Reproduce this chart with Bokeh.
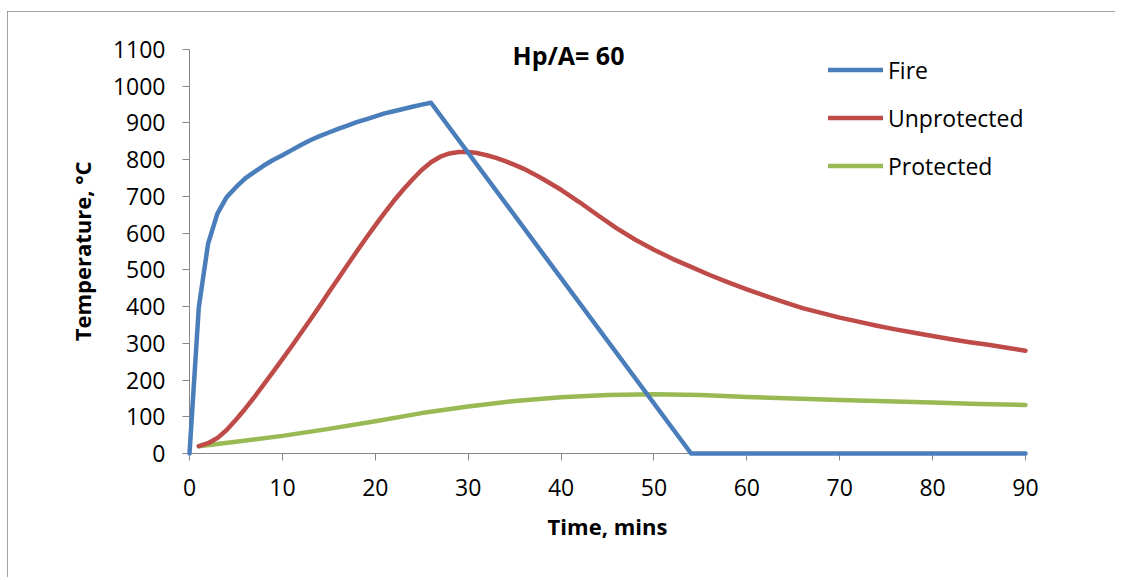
from bokeh.plotting import figure
from bokeh.models import Range1d, FixedTicker, Label, Legend, LegendItem
from bokeh.embed import file_html
from bokeh.resources import INLINE

# ---- data ----
fire_t = [0, 1, 2, 3, 4, 5, 6, 7, 8, 9, 10, 11, 12, 13, 14, 15, 16, 17, 18, 19,
          20, 21, 22, 23, 24, 25, 26, 54, 90]
fire_T = [0, 398, 571, 653, 698, 725, 749, 767, 784, 799, 812, 826, 840, 853, 864,
          874, 884, 893, 902, 910, 918, 926, 932, 938, 944, 950, 955, 0, 0]

unprot_t = [1, 2, 3, 4, 5, 6, 7, 8, 9, 10, 11, 12, 13, 14, 15, 16, 17, 18, 19, 20,
            21, 22, 23, 24, 25, 26, 27, 28, 29, 30, 31, 32, 33, 34, 35, 36, 37, 38,
            39, 40, 42, 44, 46, 48, 50, 52, 54, 56, 58, 60, 62, 64, 66, 68, 70, 72,
            74, 76, 78, 80, 82, 84, 86, 88, 90]
unprot_T = [20, 28, 42, 64, 92, 122, 154, 188, 222, 257, 292, 328, 364, 401, 439,
            476, 513, 550, 586, 621, 655, 688, 718, 746, 772, 793, 808, 817, 821,
            821, 818, 812, 805, 796, 786, 775, 762, 748, 733, 718, 684, 648, 613,
            582, 555, 530, 508, 486, 466, 447, 429, 412, 396, 383, 370, 359, 348,
            338, 329, 320, 311, 303, 296, 288, 280]

prot_t = [1, 5, 10, 15, 20, 25, 30, 35, 40, 45, 50, 55, 60, 65, 70, 75, 80, 85, 90]
prot_T = [20, 32, 48, 67, 88, 110, 128, 143, 153, 159, 161, 159, 154, 150, 146,
          142, 139, 135, 132]

x_ticks = list(range(0, 91, 10))
y_ticks = list(range(0, 1101, 100))

series_names = ["Fire", "Unprotected", "Protected"]
series_colors = ["#4A7EBB", "#BE4B48", "#98B954"]

FONT = "Open Sans"
AX = "#868686"

# frame extends 6px above the 1100 tick so the title is not clipped
Y_TOP = 1100 + 6 * 1100 / 404

p = figure(frame_width=836, frame_height=410,
           min_border_left=182, min_border_right=90,
           min_border_top=32, min_border_bottom=124,
           x_range=Range1d(0, 90), y_range=Range1d(0, Y_TOP),
           output_backend="svg", toolbar_location=None)
p.margin = (11, 0, 0, 7)
p.styles = {"outline": "1px solid #868686", "outline-offset": "-1px"}
p.outline_line_color = None
p.xgrid.visible = False
p.ygrid.visible = False
p.background_fill_color = "white"
p.border_fill_color = "white"

for ax in (p.xaxis[0], p.yaxis[0]):
    ax.axis_line_color = AX
    ax.major_tick_line_color = AX
    ax.minor_tick_line_color = None
    ax.major_tick_in = 0
    ax.major_tick_out = 7
    ax.major_label_text_font = FONT
    ax.major_label_text_font_size = "23px"
    ax.major_label_text_color = "black"
    ax.axis_label_text_font = FONT
    ax.axis_label_text_font_size = "22px"
    ax.axis_label_text_font_style = "bold"
    ax.axis_label_text_color = "black"

p.xaxis.ticker = FixedTicker(ticks=x_ticks)
p.yaxis.ticker = FixedTicker(ticks=y_ticks)
p.yaxis.bounds = (0, 1100)
p.xaxis.axis_label = "Time, mins"
p.yaxis.axis_label = "Temperature,  °C"
p.yaxis.major_label_standoff = 17
p.xaxis.major_label_standoff = 18
p.yaxis.axis_label_standoff = 13
p.xaxis.axis_label_standoff = 12

r_prot = p.line(prot_t, prot_T, line_color=series_colors[2], line_width=4.5,
                line_cap="round", line_join="round", level="overlay")
r_unprot = p.line(unprot_t, unprot_T, line_color=series_colors[1], line_width=4.5,
                  line_cap="round", line_join="round", level="overlay")
r_fire = p.line(fire_t, fire_T, line_color=series_colors[0], line_width=4.5,
                line_cap="round", line_join="round", level="overlay")

legend = Legend(items=[LegendItem(label=series_names[0], renderers=[r_fire]),
                       LegendItem(label=series_names[1], renderers=[r_unprot]),
                       LegendItem(label=series_names[2], renderers=[r_prot])],
                location=(639, 271))
legend.padding = 0
legend.margin = 0
legend.border_line_color = None
legend.background_fill_alpha = 0
legend.glyph_width = 55
legend.glyph_height = 33
legend.label_height = 33
legend.spacing = 15
legend.label_standoff = 5
legend.label_text_font = FONT
legend.label_text_font_size = "23px"
legend.label_text_color = "black"
p.add_layout(legend)

title = Label(x=40.8, y=1086, text="Hp/A= 60", text_align="center",
              text_baseline="middle", text_font=FONT, text_font_size="25px",
              text_font_style="bold", text_color="black")
p.add_layout(title)

open("out.html", "w").write(file_html(p, INLINE))
